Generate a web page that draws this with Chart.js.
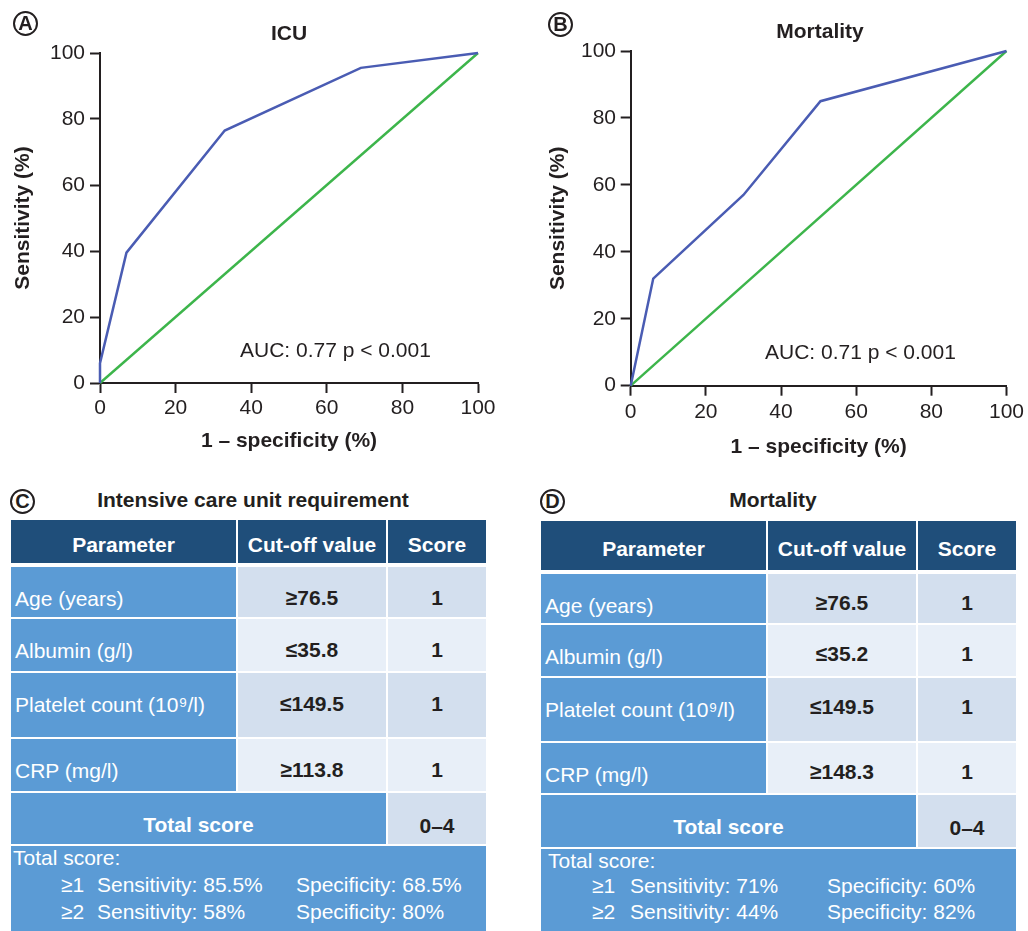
<!DOCTYPE html>
<html>
<head>
<meta charset="utf-8">
<script src="https://cdn.jsdelivr.net/npm/chart.js@4.4.1/dist/chart.umd.min.js"></script>
<style>
  body { margin: 0; background: #fff; font-family: "Liberation Sans", Arial, sans-serif; color: #231f20; }
  #page { position: relative; width: 1028px; height: 931px; overflow: hidden; }
  .box { position: absolute; }
  .txt { position: absolute; white-space: nowrap; font-size: 21px; line-height: 24px; }
  .b { font-weight: bold; }
  .circ { position: absolute; box-sizing: border-box; width: 25px; height: 25px; border: 2px solid #231f20;
          border-radius: 50%; text-align: center; line-height: 21px; font-weight: bold; font-size: 20px; }
  .cell { position: absolute; box-sizing: border-box; white-space: nowrap; font-size: 21px; line-height: 24px; }
</style>
</head>
<body>
<div id="page">
  <div class="box" style="left:0;top:0;width:500px;height:465px;"><canvas id="rocIcu" width="500" height="465"></canvas></div>
  <div class="box" style="left:530px;top:0;width:498px;height:470px;"><canvas id="rocMort" width="498" height="470"></canvas></div>

  <div class="circ" style="left:13px;top:11px;">A</div>
  <div class="circ" style="left:548px;top:12px;">B</div>
  <div class="circ" style="left:10px;top:489px;">C</div>
  <div class="circ" style="left:540px;top:489px;">D</div>

  <div class="txt b" style="left:189px;top:21px;width:200px;text-align:center;">ICU</div>
  <div class="txt b" style="left:720px;top:19px;width:200px;text-align:center;">Mortality</div>
  <div class="txt" style="left:240px;top:338px;">AUC: 0.77 p &lt; 0.001</div>
  <div class="txt" style="left:765px;top:340px;">AUC: 0.71 p &lt; 0.001</div>

  <div class="txt b" style="left:53px;top:488px;width:400px;text-align:center;">Intensive care unit requirement</div>
  <div class="txt b" style="left:673px;top:488px;width:200px;text-align:center;">Mortality</div>

  <div id="tblIcu"></div>
  <div id="tblMort"></div>
</div>

<script>
// ROC points (1 - specificity, sensitivity), in %
const icuFpr = [0, 0, 7, 33, 69, 100];
const icuTpr = [0, 6, 39.5, 76.5, 95.5, 100];
const mortFpr = [0, 6, 30, 50.5, 100];
const mortTpr = [0, 32, 57, 85, 100];
const refX = [0, 100];
const refY = [0, 100];
const axisTicks = [0, 20, 40, 60, 80, 100];

// score tables
const headers = ['Parameter', 'Cut-off value', 'Score'];
const params = ['Age (years)', 'Albumin (g/l)', 'Platelet count (10⁹/l)', 'CRP (mg/l)'];
const icuCutoffs = ['≥76.5', '≤35.8', '≤149.5', '≥113.8'];
const mortCutoffs = ['≥76.5', '≤35.2', '≤149.5', '≥148.3'];
const scores = ['1', '1', '1', '1'];
const totalRange = '0–4';
const levels = ['≥1', '≥2'];
const icuSens = ['85.5%', '58%'];
const icuSpec = ['68.5%', '80%'];
const mortSens = ['71%', '44%'];
const mortSpec = ['60%', '82%'];

const FONT = '"Liberation Sans", Arial, sans-serif';
const INK = '#231f20';

function rocChart(id, fpr, tpr, g) {
  const pts = (xs, ys) => xs.map((x, i) => ({ x: x, y: ys[i] }));
  const axisStyle = {
    grid: { display: true, drawOnChartArea: false, drawTicks: true, tickLength: 10, tickWidth: 2, color: INK },
    border: { display: true, color: INK, width: 2 },
    afterBuildTicks: s => { s.ticks = axisTicks.map(v => ({ value: v })); }
  };
  return new Chart(document.getElementById(id), {
    type: 'scatter',
    data: {
      datasets: [
        { data: pts(fpr, tpr), showLine: true, borderColor: '#4a5cb3', borderWidth: 2.5, pointRadius: 0, clip: false },
        { data: pts(refX, refY), showLine: true, borderColor: '#3db54b', borderWidth: 2.4, pointRadius: 0, clip: false }
      ]
    },
    options: {
      responsive: false,
      animation: false,
      events: [],
      layout: { padding: { top: g.top, right: g.right, bottom: g.bottom, left: 0 } },
      plugins: { legend: { display: false }, tooltip: { enabled: false } },
      scales: {
        x: Object.assign({}, axisStyle, {
          type: 'linear', min: 0, max: 100,
          afterFit: s => { s.height = g.xh; },
          ticks: { color: INK, font: { family: FONT, size: 21 }, padding: g.xpad, maxRotation: 0, autoSkip: false },
          title: { display: true, text: '1 – specificity (%)', color: INK, font: { family: FONT, size: 21, weight: 'bold' }, padding: { top: 0, bottom: 0 } }
        }),
        y: Object.assign({}, axisStyle, {
          type: 'linear', min: 0, max: 100,
          afterFit: s => { s.width = g.yw; },
          ticks: { color: INK, font: { family: FONT, size: 21 }, padding: g.ypad, autoSkip: false },
          title: { display: true, text: 'Sensitivity (%)', color: INK, font: { family: FONT, size: 21, weight: 'bold' }, padding: { top: g.ytitle, bottom: 0 } }
        })
      }
    }
  });
}

rocChart('rocIcu', icuFpr, icuTpr, { top: 53, right: 22, bottom: 11.4, xh: 70.6, yw: 100, xpad: 3, ypad: 5, ytitle: 10.4 });
rocChart('rocMort', mortFpr, mortTpr, { top: 51, right: 19, bottom: 10.4, xh: 73.9, yw: 100.7, xpad: 4, ypad: 4.7, ytitle: 15.4 });

// tables
const DARK = '#1f4e7a', MID = '#5b9bd5', LIGHT = '#d3dfee', PALE = '#e8eff8';

function addCell(host, x0, x1, y0, y1, bg, html, css) {
  const d = document.createElement('div');
  d.className = 'cell';
  d.style.left = (x0 + 1) + 'px';
  d.style.top = (y0 + 1) + 'px';
  d.style.width = (x1 - x0 - 2) + 'px';
  d.style.height = (y1 - y0 - 2) + 'px';
  d.style.background = bg;
  d.innerHTML = html;
  d.style.cssText += css || '';
  host.appendChild(d);
  return d;
}

function addText(host, x, yc, html, css) {
  const d = document.createElement('div');
  d.className = 'txt';
  d.style.left = x + 'px';
  d.style.top = (yc - 12) + 'px';
  d.innerHTML = html;
  d.style.cssText += css || '';
  host.appendChild(d);
}

function scoreTable(hostId, g, cutoffs, sens, spec) {
  const host = document.getElementById(hostId);
  const x = g.x;
  headers.forEach((h, i) => {
    addCell(host, x[i], x[i + 1], g.head[0], g.head[1], DARK, h,
      'color:#fff;font-weight:bold;text-align:center;padding-top:' + ((g.head[1] - g.head[0]) / 2 - 10) + 'px;');
  });
  params.forEach((p, r) => {
    const [y0, y1] = g.rows[r];
    const bg = r % 2 === 0 ? LIGHT : PALE;
    addCell(host, x[0], x[1], y0, y1, MID, p, 'color:#fff;padding-left:4px;padding-top:' + (g.textTop - 1) + 'px;');
    addCell(host, x[1], x[2], y0, y1, bg, cutoffs[r], 'color:' + INK + ';font-weight:bold;text-align:center;padding-top:' + (g.valTop - 1) + 'px;');
    addCell(host, x[2], x[3], y0, y1, bg, scores[r], 'color:' + INK + ';font-weight:bold;text-align:center;padding-top:' + (g.valTop - 1) + 'px;');
  });
  const [t0, t1] = g.total;
  addCell(host, x[0], x[2], t0, t1, MID, 'Total score', 'color:#fff;font-weight:bold;text-align:center;padding-top:' + ((t1 - t0) / 2 - 7) + 'px;');
  addCell(host, x[2], x[3], t0, t1, LIGHT, totalRange, 'color:' + INK + ';font-weight:bold;text-align:center;padding-top:' + ((t1 - t0) / 2 - 6) + 'px;');
  addCell(host, x[0], x[3], g.foot[0], g.foot[1] + 2, MID, '', '');
  addText(host, g.fx[0], g.fy[0], 'Total score:', 'color:#fff;');
  levels.forEach((lv, i) => {
    addText(host, g.fx[1], g.fy[i + 1], lv, 'color:#fff;');
    addText(host, g.fx[2], g.fy[i + 1], 'Sensitivity: ' + sens[i], 'color:#fff;');
    addText(host, g.fx[3], g.fy[i + 1], 'Specificity: ' + spec[i], 'color:#fff;');
  });
}

scoreTable('tblIcu', {
  x: [10, 237, 387, 487], head: [519, 564],
  rows: [[566, 618], [618, 672], [672, 738], [738, 792]], total: [792, 845], foot: [845, 931],
  textTop: 21, valTop: 20, fx: [13, 61, 97, 296], fy: [858, 885, 912]
}, icuCutoffs, icuSens, icuSpec);

scoreTable('tblMort', {
  x: [540, 767, 917, 1017], head: [520, 571],
  rows: [[573, 624], [624, 677], [677, 742], [742, 794]], total: [794, 848], foot: [848, 931],
  textTop: 21, valTop: 18, fx: [548, 592, 630, 827], fy: [861, 886, 912]
}, mortCutoffs, mortSens, mortSpec);
</script>
</body>
</html>
